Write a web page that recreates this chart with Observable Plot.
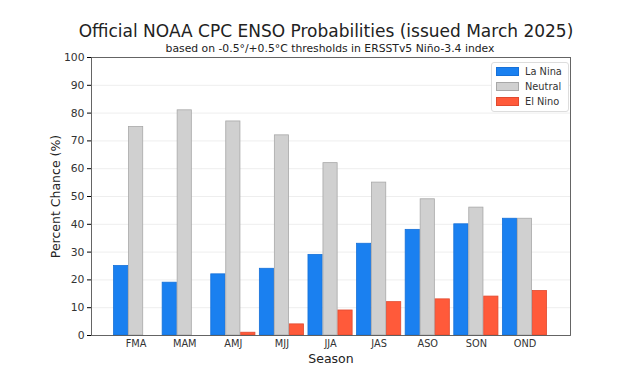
<!DOCTYPE html>
<html><head><meta charset="utf-8">
<script src="https://cdn.jsdelivr.net/npm/d3@7"></script>
<script src="https://cdn.jsdelivr.net/npm/@observablehq/plot@0.6"></script>
<style>
body{margin:0;background:#fff;font-family:"DejaVu Sans",sans-serif;}
#wrap{position:relative;width:640px;height:375px;}
#title{position:absolute;left:0;top:21px;width:652px;text-align:center;font-size:17px;color:#222;}
#sub{position:absolute;left:0;top:42px;width:660px;text-align:center;font-size:10.8px;color:#222;}
#legend{position:absolute;left:491px;top:62px;width:76px;height:48px;border:1px solid #ddd;border-radius:3px;background:#fff;font-size:9.8px;color:#333;}
.row{position:absolute;left:4px;height:12px;line-height:12px;}
.sw{display:inline-block;width:21px;height:7px;vertical-align:middle;margin-right:6px;margin-top:-2px;}
</style></head><body>
<div id="wrap"><div id="chart"></div>
<div id="title">Official NOAA CPC ENSO Probabilities (issued March 2025)</div>
<div id="sub">based on -0.5°/+0.5°C thresholds in ERSSTv5 Niño-3.4 index</div>
<div id="legend"></div>
</div>
<script>
const seasons = ["FMA","MAM","AMJ","MJJ","JJA","JAS","ASO","SON","OND"];
const laNina  = [25,19,22,24,29,33,38,40,42];
const neutral = [75,81,77,72,62,55,49,46,42];
const elNino  = [0,0,1,4,9,12,13,14,16];
const seriesNames = ["La Nina","Neutral","El Nino"];
const seriesFill = ["#1a80f0","#d0d0d0","#ff5a3a"];
const seriesStroke = ["#1670d8","#a8a8a8","#e04a30"];
const yTicks = [0,10,20,30,40,50,60,70,80,90,100];

const W = 640, H = 375, ml = 91, mr = 70, mt = 57, mb = 40;
const pInner = 0.075, pOuter = 0.465;
const step = (W - ml - mr) / (seasons.length - pInner + 2 * pOuter);
const bw = step * (1 - pInner);
const sub = bw / 3;
const allSeries = [laNina, neutral, elNino];

const marks = [
  Plot.gridY(yTicks, {stroke: "#eee", strokeOpacity: 1}),
];
allSeries.forEach((vals, i) => {
  const rows = seasons.map((s, j) => ({season: s, value: vals[j]}));
  marks.push(Plot.barY(rows, {
    x: "season", y: "value",
    fill: seriesFill[i], stroke: seriesStroke[i], strokeWidth: 0.8,
    insetLeft: sub * i + 0.4, insetRight: sub * (2 - i) + 0.4
  }));
});
marks.push(Plot.frame({stroke: "#555", strokeWidth: 0.9}));

const chart = Plot.plot({
  width: W, height: H,
  marginLeft: ml, marginRight: mr, marginTop: mt, marginBottom: mb,
  style: {fontFamily: "DejaVu Sans, sans-serif", background: "transparent"},
  x: {type: "band", domain: seasons, paddingInner: pInner, paddingOuter: pOuter, align: 0.49, round: false,
      label: "Season", labelAnchor: "center", labelOffset: 27, tickSize: 0, tickPadding: 5},
  y: {domain: [0, 100], ticks: yTicks, label: "Percent Chance (%)", labelAnchor: "center",
      labelArrow: "none", labelOffset: 40, tickSize: 4, tickPadding: 3},
  marks
});
document.getElementById("chart").appendChild(chart);

// style axis text
chart.querySelectorAll("[aria-label='x-axis tick label'] text").forEach(t => { t.style.fontSize = "9.8px"; t.style.fill = "#333"; });
chart.querySelectorAll("[aria-label='y-axis tick label'] text").forEach(t => { t.style.fontSize = "10.8px"; t.style.fill = "#333"; });
chart.querySelectorAll("[aria-label='x-axis label'] text, [aria-label='y-axis label'] text").forEach(t => {
  t.style.fontSize = "12.5px"; t.style.fill = "#222";
  t.textContent = t.textContent.replace(/\s*[↑→←↓]\s*/g, "");
});

const lg = document.getElementById("legend");
seriesNames.forEach((n, i) => {
  const r = document.createElement("div");
  r.className = "row";
  r.style.top = (3 + i * 15) + "px";
  r.innerHTML = `<span class="sw" style="background:${seriesFill[i]};border:0.8px solid ${seriesStroke[i]}"></span>${n}`;
  lg.appendChild(r);
});
</script>
</body></html>
